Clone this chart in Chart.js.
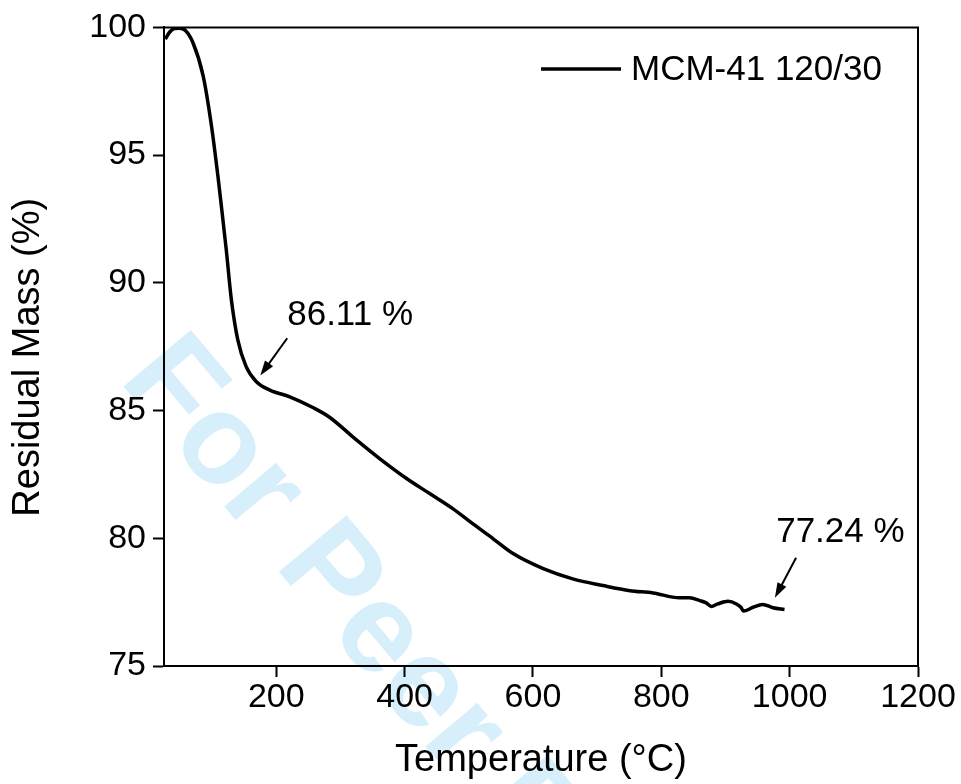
<!DOCTYPE html>
<html>
<head>
<meta charset="utf-8">
<script src="https://cdn.jsdelivr.net/npm/chart.js@4.4.0/dist/chart.umd.min.js"></script>
<style>
  body { margin: 0; background: #fff; }
  canvas { display: block; }
</style>
</head>
<body>
<canvas id="tgaChart" width="961" height="784" style="width:961px;height:784px"></canvas>
<script>
// TGA curve
const temperature = [27, 34, 41, 49, 58, 70, 86, 99, 109, 115, 122, 130, 140, 153, 169, 190, 221, 257, 283, 322, 361, 403, 439, 475, 506, 538, 569, 616, 662, 709, 751, 787, 828, 844, 860, 870, 878, 888, 904, 917, 924, 928, 943, 958, 974, 992];
const residualMass = [99.54, 99.82, 99.95, 99.97, 99.89, 99.41, 98.10, 96.14, 94.18, 92.87, 91.30, 89.34, 87.77, 86.72, 86.13, 85.80, 85.54, 85.12, 84.74, 83.91, 83.12, 82.34, 81.75, 81.16, 80.57, 79.98, 79.40, 78.81, 78.41, 78.15, 77.95, 77.86, 77.67, 77.67, 77.56, 77.47, 77.33, 77.43, 77.53, 77.43, 77.30, 77.15, 77.30, 77.41, 77.28, 77.21];
const xTicks = [200, 400, 600, 800, 1000, 1200];
const yTicks = [75, 80, 85, 90, 95, 100];
const seriesName = "MCM-41 120/30";

// labels with arrows, in data units (text anchor, arrow start, arrow tip)
const notes = [
  { text: "86.11 %", tx: 217, ty: 88.71, ax: 217, ay: 87.83, bx: 175, by: 86.37 },
  { text: "77.24 %", tx: 979, ty: 80.24, ax: 1010, ay: 79.24, bx: 977, by: 77.67 }
];

const FONT = "'Liberation Sans', Arial, Helvetica, sans-serif";

const watermark = {
  id: "watermark",
  beforeDraw(chart) {
    const c = chart.ctx;
    c.save();
    c.translate(118, 380);
    c.rotate(50 * Math.PI / 180);
    c.font = "bold 128px " + FONT;
    c.fillStyle = "#d6effb";
    c.textBaseline = "alphabetic";
    c.fillText("For Peer Review", 0, 0);
    c.restore();
  }
};

const extras = {
  id: "extras",
  afterDraw(chart) {
    const c = chart.ctx;
    const a = chart.chartArea;
    const x = chart.scales.x, y = chart.scales.y;
    c.save();
    // frame top + right
    c.strokeStyle = "#000";
    c.lineWidth = 2;
    c.beginPath();
    c.moveTo(a.left, a.top);
    c.lineTo(a.right, a.top);
    c.lineTo(a.right, a.bottom);
    c.stroke();

    // legend
    c.lineWidth = 3.5;
    c.beginPath();
    c.moveTo(541, 69);
    c.lineTo(621, 69);
    c.stroke();
    c.fillStyle = "#000";
    c.font = "35px " + FONT;
    c.textBaseline = "middle";
    c.fillText(seriesName, 631, 70);

    // notes
    c.font = "35px " + FONT;
    notes.forEach(n => {
      c.fillText(n.text, x.getPixelForValue(n.tx), y.getPixelForValue(n.ty));
      const x0 = x.getPixelForValue(n.ax), y0 = y.getPixelForValue(n.ay);
      const x1 = x.getPixelForValue(n.bx), y1 = y.getPixelForValue(n.by);
      const ang = Math.atan2(y1 - y0, x1 - x0);
      c.lineWidth = 2;
      c.beginPath();
      c.moveTo(x0, y0);
      c.lineTo(x1 - 8 * Math.cos(ang), y1 - 8 * Math.sin(ang));
      c.stroke();
      c.beginPath();
      c.moveTo(x1, y1);
      c.lineTo(x1 - 15 * Math.cos(ang) + 5 * Math.sin(ang), y1 - 15 * Math.sin(ang) - 5 * Math.cos(ang));
      c.lineTo(x1 - 15 * Math.cos(ang) - 5 * Math.sin(ang), y1 - 15 * Math.sin(ang) + 5 * Math.cos(ang));
      c.closePath();
      c.fill();
    });
    c.restore();
  }
};

new Chart(document.getElementById("tgaChart"), {
  type: "line",
  data: {
    datasets: [{
      label: seriesName,
      data: temperature.map((t, i) => ({ x: t, y: residualMass[i] })),
      borderColor: "#000",
      borderWidth: 3.5,
      pointRadius: 0,
      cubicInterpolationMode: "monotone",
      fill: false
    }]
  },
  options: {
    responsive: false,
    animation: false,
    layout: { padding: { top: 8, right: 43, left: 0, bottom: 0 } },
    plugins: { legend: { display: false }, tooltip: { enabled: false } },
    scales: {
      x: {
        type: "linear",
        min: 25,
        max: 1200,
        afterBuildTicks: s => { s.ticks = xTicks.map(v => ({ value: v })); },
        afterFit: s => { s.height = 118; },
        grid: { drawOnChartArea: false, drawTicks: true, tickLength: 11, tickWidth: 2, color: "#000" },
        border: { color: "#000", width: 2 },
        ticks: { color: "#000", font: { family: FONT, size: 34 }, padding: 0, maxRotation: 0, includeBounds: false, callback: v => String(v) },
        title: { display: true, text: "Temperature (°C)", color: "#000", font: { family: FONT, size: 38 }, padding: { top: 0, bottom: 1 } }
      },
      y: {
        min: 75,
        max: 100,
        afterBuildTicks: s => { s.ticks = yTicks.map(v => ({ value: v })); },
        afterFit: s => { s.width = 164; },
        grid: { drawOnChartArea: false, drawTicks: true, tickLength: 11, tickWidth: 2, color: "#000" },
        border: { color: "#000", width: 2 },
        ticks: { color: "#000", font: { family: FONT, size: 34 }, padding: 7, callback: v => String(v) },
        title: { display: true, text: "Residual Mass (%)  ", color: "#000", font: { family: FONT, size: 38 }, padding: { top: 6, bottom: 0 } }
      }
    }
  },
  plugins: [watermark, extras]
});
</script>
</body>
</html>
